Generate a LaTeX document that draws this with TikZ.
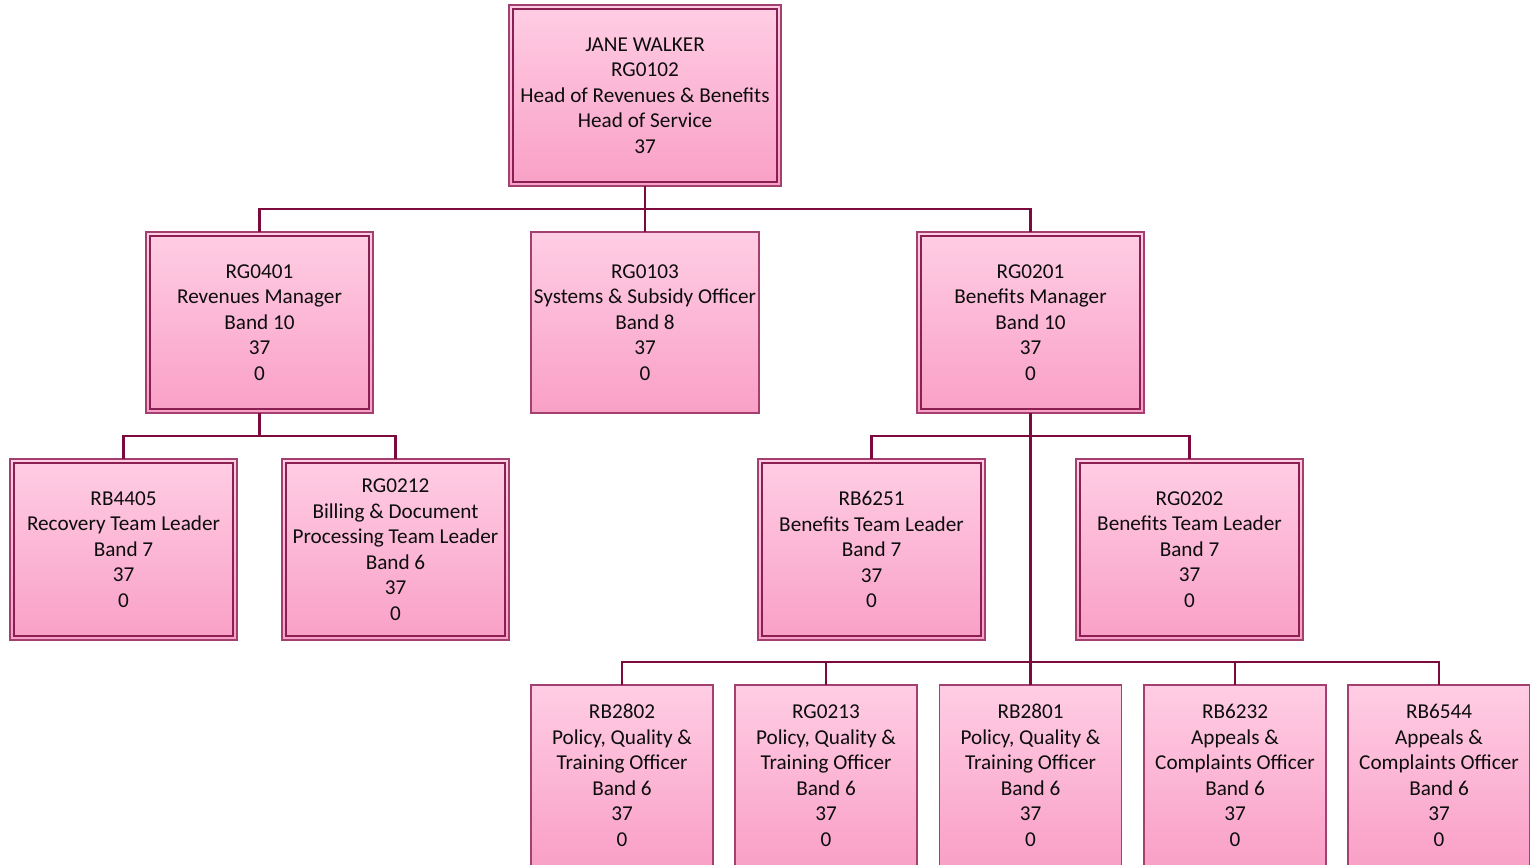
\documentclass[tikz,border=0pt]{standalone}
\usepackage{fontspec}
\setmainfont{Carlito}
\usepackage{xcolor}
\definecolor{postTop}{HTML}{FFCDE4}
\definecolor{postBottom}{HTML}{F9A0C6}
\definecolor{postEdge}{HTML}{A3406F}
\definecolor{postInner}{HTML}{8A1F52}
\definecolor{linkRed}{HTML}{7D0A3C}
\definecolor{postText}{HTML}{0D0D0D}

\begin{document}
\begin{tikzpicture}[
    x=1pt, y=-1pt,
    post/.style={rectangle, draw=postEdge, line width=1.2pt, top color=postTop, bottom color=postBottom,
        minimum width=227pt, minimum height=181pt, inner sep=0pt, outer sep=0pt, align=center,
        text=postText, font=\fontsize{21.2}{25.5}\selectfont},
    framed/.style={post, path picture={\draw[postInner, line width=1.2pt]
        ([shift={(4pt,4pt)}]path picture bounding box.south west) rectangle
        ([shift={(-4pt,-4pt)}]path picture bounding box.north east);}},
    link/.style={linkRed, line width=2.6pt}
]
    \useasboundingbox (0,0) rectangle (1530,864);

    % Head of service
    \node[framed, minimum width=272pt] (walker) at (645,95.5) {JANE WALKER\\RG0102\\Head of Revenues \& Benefits\\Head of Service\\37};

    % Managers
    \node[framed] (rg0401) at (259.5,322.5) {RG0401\\Revenues Manager\\Band 10\\37\\0};
    \node[post, minimum width=228pt] (rg0103) at (645,322.5) {RG0103\\Systems \& Subsidy Officer\\Band 8\\37\\0};
    \node[framed] (rg0201) at (1030.5,322.5) {RG0201\\Benefits Manager\\Band 10\\37\\0};

    % Team leaders
    \node[framed] (rb4405) at (123.5,549.5) {RB4405\\Recovery Team Leader\\Band 7\\37\\0};
    \node[framed] (rg0212) at (395.5,549.5) {RG0212\\Billing \& Document\\Processing Team Leader\\Band 6\\37\\0};
    \node[framed] (rb6251) at (871.5,549.5) {RB6251\\Benefits Team Leader\\Band 7\\37\\0};
    \node[framed] (rg0202) at (1189.5,549.5) {RG0202\\Benefits Team Leader\\Band 7\\37\\0};

    % Officers
    \node[post, minimum width=182pt] (rb2802) at (622,775.5) {RB2802\\Policy, Quality \&\\Training Officer\\Band 6\\37\\0};
    \node[post, minimum width=182pt] (rg0213) at (826,775.5) {RG0213\\Policy, Quality \&\\Training Officer\\Band 6\\37\\0};
    \node[post, minimum width=182pt] (rb2801) at (1030.5,775.5) {RB2801\\Policy, Quality \&\\Training Officer\\Band 6\\37\\0};
    \node[post, minimum width=182pt] (rb6232) at (1235,775.5) {RB6232\\Appeals \&\\Complaints Officer\\Band 6\\37\\0};
    \node[post, minimum width=182pt] (rb6544) at (1439,775.5) {RB6544\\Appeals \&\\Complaints Officer\\Band 6\\37\\0};

    % Lines
    \foreach \child in {rg0401, rg0103, rg0201}
        \draw[link] (walker.south) -- +(0,23) -| (\child.north);
    \foreach \child in {rb4405, rg0212}
        \draw[link] (rg0401.south) -- +(0,23) -| (\child.north);
    \foreach \child in {rb6251, rg0202}
        \draw[link] (rg0201.south) -- +(0,23) -| (\child.north);
    \foreach \child in {rb2802, rg0213, rb2801, rb6232, rb6544}
        \draw[link] (rg0201.south) -- +(0,249) -| (\child.north);
\end{tikzpicture}
\end{document}
